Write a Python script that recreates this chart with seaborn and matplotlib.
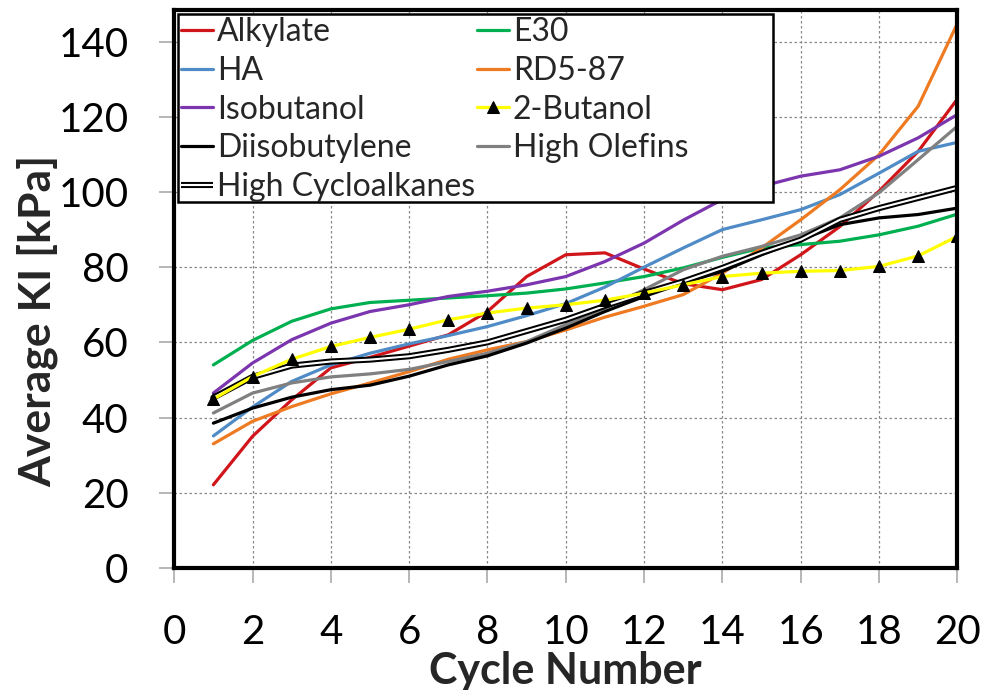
import numpy as np
import pandas as pd
import seaborn as sns
import matplotlib
matplotlib.use("Agg")
import matplotlib.pyplot as plt
from matplotlib.lines import Line2D
from matplotlib.patches import Rectangle
from matplotlib.legend_handler import HandlerTuple

cycles = list(range(1, 21))
alkylate = [22.1, 35.0, 44.7, 53.2, 56.0, 59.0, 62.0, 68.2, 77.5, 83.3, 83.8, 79.5, 75.6, 74.0, 76.7, 83.3, 90.8, 100.2, 110.8, 124.7]
e30 = [54.0, 60.5, 65.6, 68.9, 70.6, 71.2, 71.8, 72.4, 73.1, 74.2, 75.8, 77.5, 79.8, 82.6, 85.1, 86.0, 86.9, 88.6, 90.9, 94.1]
ha = [35.1, 42.8, 49.6, 54.0, 57.1, 59.6, 61.8, 64.2, 67.1, 70.3, 74.7, 80.0, 85.1, 90.0, 92.6, 95.3, 99.3, 105.0, 110.8, 113.2]
rd587 = [33.0, 39.0, 42.9, 46.3, 49.2, 52.2, 55.5, 58.0, 60.2, 63.3, 66.7, 69.6, 72.7, 78.4, 85.1, 92.6, 100.6, 109.9, 122.8, 144.8]
isobutanol = [46.5, 54.5, 60.7, 65.1, 68.2, 70.0, 72.2, 73.6, 75.3, 77.5, 81.5, 86.4, 92.5, 98.0, 101.5, 104.2, 105.9, 109.5, 114.4, 120.6]
butanol2 = [44.9, 50.9, 55.5, 58.9, 61.3, 63.5, 66.0, 67.8, 69.1, 70.0, 71.2, 73.1, 75.3, 77.5, 78.4, 78.9, 79.1, 80.2, 83.0, 88.2]
diisobutylene = [38.5, 42.5, 45.4, 47.4, 48.6, 51.0, 54.0, 56.4, 59.8, 63.8, 68.2, 72.2, 75.8, 78.9, 83.3, 87.3, 91.3, 93.1, 94.0, 95.7]
high_olefins = [41.2, 46.5, 49.2, 50.8, 51.6, 52.8, 54.9, 57.1, 60.2, 64.7, 69.1, 74.0, 79.3, 82.9, 85.5, 88.6, 93.1, 99.8, 108.6, 117.5]
high_cycloalkanes = [45.3, 50.8, 53.8, 54.9, 55.4, 56.3, 58.0, 60.0, 63.0, 66.0, 69.7, 73.1, 76.2, 79.8, 83.8, 87.3, 92.6, 95.7, 98.4, 101.1]

x_ticks = list(range(0, 21, 2))
y_ticks = list(range(0, 141, 20))

sns.set_theme(style="white")
plt.rcParams['font.family'] = ['Lato', 'DejaVu Sans']

fig = plt.figure(figsize=(9.9, 6.9), dpi=100)
ax = fig.add_axes([0.176, 0.177, 0.791, 0.809])

series = [
    ("Alkylate", alkylate, "#D0161B"),
    ("E30", e30, "#00B050"),
    ("HA", ha, "#4F8BC6"),
    ("RD5-87", rd587, "#EE7A22"),
    ("Isobutanol", isobutanol, "#7B35AE"),
    ("High Olefins", high_olefins, "#808080"),
    ("Diisobutylene", diisobutylene, "#000000"),
]
handles = {}
for name, vals, col in series:
    df = pd.DataFrame({"Cycle": cycles, "KI": vals})
    sns.lineplot(data=df, x="Cycle", y="KI", ax=ax, color=col, lw=2.3, label=name)
    handles[name] = ax.get_lines()[-1]

df = pd.DataFrame({"Cycle": cycles, "KI": high_cycloalkanes})
sns.lineplot(data=df, x="Cycle", y="KI", ax=ax, color="black", lw=4.4, label="_hc_outer")
sns.lineplot(data=df, x="Cycle", y="KI", ax=ax, color="white", lw=1.5, label="_hc_inner")
handles["High Cycloalkanes"] = (Line2D([], [], color="black", lw=4.4, solid_capstyle="butt"),
                                Line2D([], [], color="white", lw=1.5, solid_capstyle="butt"))

df = pd.DataFrame({"Cycle": cycles, "KI": butanol2})
sns.lineplot(data=df, x="Cycle", y="KI", ax=ax, color="#FFFF00", lw=2.3,
             marker="^", markersize=8, markerfacecolor="black", markeredgecolor="black",
             label="2-Butanol")
handles["2-Butanol"] = ax.get_lines()[-1]

ax.set_xlim(0, 20)
ax.set_ylim(0, 148.5)
ax.set_xticks(x_ticks)
ax.set_yticks(y_ticks)
ax.grid(True, color="#888888", linestyle=(0, (2, 2)), lw=0.9)
for s in ax.spines.values():
    s.set_color("black")
    s.set_linewidth(3)
ax.tick_params(axis="both", direction="out", length=11, width=1.2, color="#AAAAAA",
               labelsize=29, pad=22, left=True, bottom=True, labelcolor="black")

ax.set_xlabel("Cycle Number", fontsize=31, fontweight="bold", labelpad=0)
ax.set_ylabel("Average KI [kPa]", fontsize=32, fontweight="bold")
ax.yaxis.set_label_coords(-0.148, 0.443)

# legend box (wider than its content, as in the original)
ax.add_patch(Rectangle((0.005, 0.656), 0.76, 0.336, transform=ax.transAxes,
                       facecolor="white", edgecolor="black", lw=1.8, zorder=4.9))

order = ["Alkylate", "HA", "Isobutanol", "Diisobutylene", "High Cycloalkanes",
         "E30", "RD5-87", "2-Butanol", "High Olefins"]
leg = ax.legend([handles[k] for k in order], order, ncol=2, loc="upper left",
                bbox_to_anchor=(0.005, 0.992), fontsize=23, frameon=False,
                handlelength=1.0, handletextpad=0.12,
                labelspacing=0.27, columnspacing=0.05, borderpad=0.1, borderaxespad=0,
                handler_map={tuple: HandlerTuple(ndivide=1)})
leg.set_zorder(5)

fig.savefig("out.png", dpi=100)
